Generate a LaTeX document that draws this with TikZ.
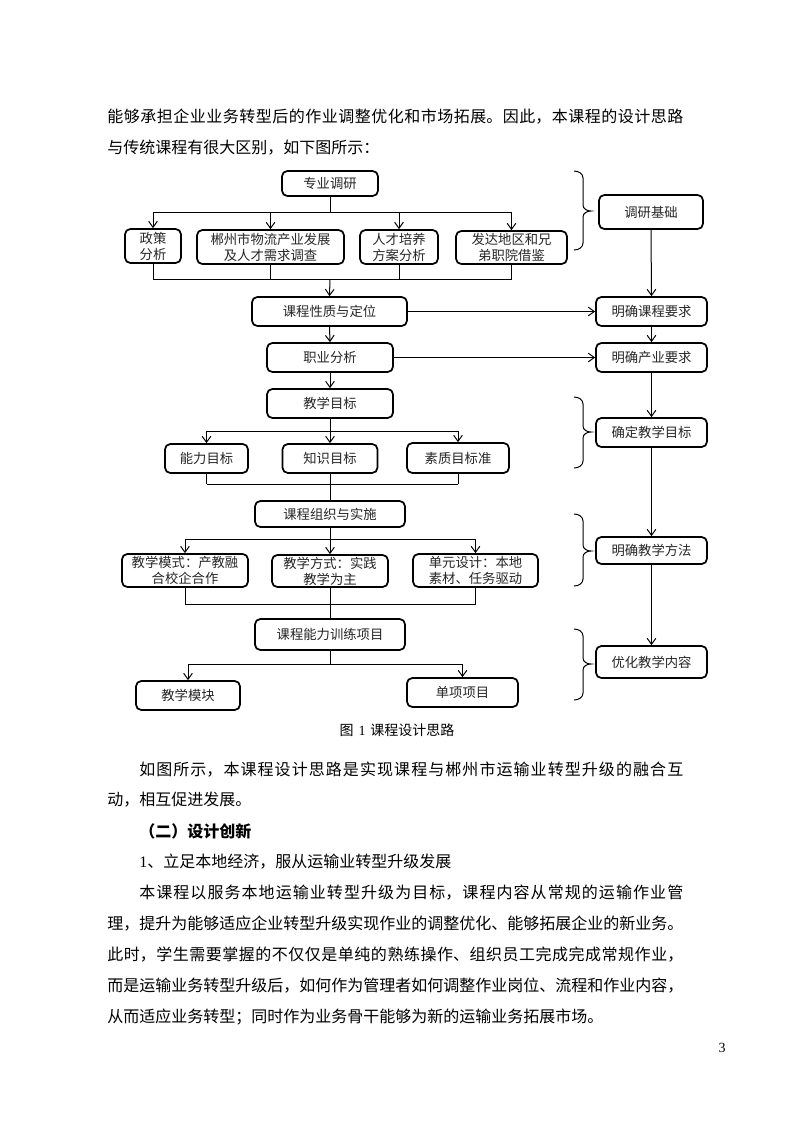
\documentclass[tikz,border=0pt]{standalone}
\usepackage{fontspec}
\setmainfont{Liberation Serif}
\newfontfamily\cjk{Noto Sans CJK SC}
\usetikzlibrary{arrows.meta}
\XeTeXlinebreaklocale "zh"
\XeTeXlinebreakskip=0pt plus 3pt
\newdimen\px \px=0.75pt
\newcommand\bodyfont{\cjk\fontsize{12pt}{23.25pt}\selectfont}
\newcommand\boxfont{\cjk\fontsize{10pt}{12pt}\selectfont\color{black!85}}
\newcommand\capfont{\cjk\fontsize{10.5pt}{12pt}\selectfont}
\newcommand\fullline[1]{\parfillskip=0pt #1\par}
\begin{document}
\begin{tikzpicture}[x=0.75pt,y=-0.75pt,
  bx/.style 2 args={draw, line width=1.3pt, rounded corners=4pt, minimum width=#1\px, minimum height=#2\px, inner sep=0pt, align=center, font=\boxfont},
  ln/.style={line width=0.75pt},
  ar/.style={ln, -{Straight Barb[length=4.5pt,width=6.5pt]}},
  brc/.style={line width=0.75pt},
  tl/.style={anchor=west, inner sep=0pt, font=\bodyfont},
  jl/.style={tl, text width=#1\px, align=justify}]
\fill[white] (0,0) rectangle (793,1122);
\useasboundingbox (0,0) rectangle (793,1122);

% body text above
\node[jl=576] (t1) at (107,117) {\fullline{能够承担企业业务转型后的作业调整优化和市场拓展。因此，本课程的设计思路}};
\node[tl] (t2) at (107,148) {与传统课程有很大区别，如下图所示：};

% left column boxes
\node[bx={96}{25}] (zy) at (330,183.5) {专业调研};
\node[bx={56}{34}] (zc) at (153,246) {政策\\分析};
\node[bx={147}{34}] (cz) at (270.5,247) {郴州市物流产业发展\\及人才需求调查};
\node[bx={78}{34}] (rc) at (399,247) {人才培养\\方案分析};
\node[bx={111}{33}] (fd) at (511.5,247.5) {发达地区和兄\\弟职院借鉴};
\node[bx={155}{29}] (xz) at (329.5,311.5) {课程性质与定位};
\node[bx={126}{29}] (zf) at (330,357.5) {职业分析};
\node[bx={126}{29}] (jm) at (330,403.5) {教学目标};
\node[bx={83}{29}] (nl) at (206.5,458.5) {能力目标};
\node[bx={95}{29}] (zs) at (330,458.5) {知识目标};
\node[bx={102}{30}] (sz) at (458,458) {素质目标准};
\node[bx={150}{26}] (zz) at (330,514) {课程组织与实施};
\node[bx={126}{33}] (ms) at (185,570.5) {教学模式：产教融\\合校企合作};
\node[bx={116}{32}] (fs) at (330,571) {教学方式：实践\\教学为主};
\node[bx={125}{33}] (dy) at (475.5,570.5) {单元设计：本地\\素材、任务驱动};
\node[bx={150}{31}] (nx) at (330,634.5) {课程能力训练项目};
\node[bx={104}{29}] (mk) at (188,695.5) {教学模块};
\node[bx={111}{29}] (dx) at (462.5,692.5) {单项项目};

% right column boxes
\node[bx={104}{34}] (jc) at (651,212) {调研基础};
\node[bx={111}{29}] (kc) at (651.5,311.5) {明确课程要求};
\node[bx={111}{29}] (cy) at (651.5,357.5) {明确产业要求};
\node[bx={111}{29}] (qd) at (651.5,432.5) {确定教学目标};
\node[bx={111}{27}] (ff) at (651.5,550.5) {明确教学方法};
\node[bx={111}{32}] (yh) at (651.5,662) {优化教学内容};

% bus coordinates
\coordinate (b1) at (330,212);
\coordinate (b2) at (330,279);
\coordinate (b3) at (330,431);
\coordinate (b4) at (330,484);
\coordinate (b5) at (330,539);
\coordinate (b6) at (330,604);
\coordinate (b7) at (330,664);

% research split
\draw[ln] (zy.south) -- (b1);
\draw[ln] (zc.north |- b1) -- (fd.north |- b1);
\foreach \n in {zc,cz,rc,fd} \draw[ar] (\n.north |- b1) -- (\n.north);
% research merge
\foreach \n in {zc,cz,rc,fd} \draw[ln] (\n.south) -- (\n.south |- b2);
\draw[ln] (zc.south |- b2) -- (fd.south |- b2);
\draw[ar] (b2) -- (xz.north);
% chain
\draw[ar] (xz.south) -- (zf.north);
\draw[ar] (zf.south) -- (jm.north);
\draw[ar] (xz.east) -- (kc.west);
\draw[ar] (zf.east) -- (cy.west);
% goals split
\draw[ln] (jm.south) -- (b3);
\draw[ln] (nl.north |- b3) -- (sz.north |- b3);
\foreach \n in {nl,zs,sz} \draw[ar] (\n.north |- b3) -- (\n.north);
% goals merge
\foreach \n in {nl,sz} \draw[ln] (\n.south) -- (\n.south |- b4);
\draw[ln] (nl.south |- b4) -- (sz.south |- b4);
\draw[ln] (zs.south) -- (zz.north);
% organisation split
\draw[ln] (zz.south) -- (b5);
\draw[ln] (ms.north |- b5) -- (dy.north |- b5);
\foreach \n in {ms,fs,dy} \draw[ar] (\n.north |- b5) -- (\n.north);
% organisation merge
\foreach \n in {ms,dy} \draw[ln] (\n.south) -- (\n.south |- b6);
\draw[ln] (ms.south |- b6) -- (dy.south |- b6);
\draw[ln] (fs.south) -- (nx.north);
% project split
\draw[ln] (nx.south) -- (b7);
\draw[ln] (mk.north |- b7) -- (dx.north |- b7);
\foreach \n in {mk,dx} \draw[ar] (\n.north |- b7) -- (\n.north);

% right column chain
\draw[ar] (jc.south) -- (kc.north);
\draw[ar] (kc.south) -- (cy.north);
\draw[ar] (cy.south) -- (qd.north);
\draw[ar] (qd.south) -- (ff.north);
\draw[ar] (ff.south) -- (yh.north);

% braces
\foreach \ya/\ym/\yb in {171/211/250, 397/432/468, 514/551/586, 629/664/700}{
  \draw[brc] (574,\ya) to[out=0,in=90] (583,\ya+7) -- (583,\ym-6) to[out=-90,in=180] (591,\ym) to[out=180,in=90] (583,\ym+6) -- (583,\yb-7) to[out=-90,in=0] (574,\yb);
}

% caption
\node[font=\capfont, inner sep=0pt] (cap) at (397,730) {图\hspace{0.35em}{\rmfamily 1}\hspace{0.35em}课程设计思路};

% body text below
\node[jl=544] (t3) at (139,770) {\fullline{如图所示，本课程设计思路是实现课程与郴州市运输业转型升级的融合互}};
\node[tl] (t4) at (107,800) {动，相互促进发展。};
\node[tl] (t5) at (139,831) {\bfseries （二）设计创新};
\node[tl] (t6) at (139,862) {{\rmfamily 1}、立足本地经济，服从运输业转型升级发展};
\node[jl=544] (t7) at (139,893) {\fullline{本课程以服务本地运输业转型升级为目标，课程内容从常规的运输作业管}};
\node[jl=576] (t8) at (107,924) {\fullline{理，提升为能够适应企业转型升级实现作业的调整优化、能够拓展企业的新业务。}};
\node[jl=576] (t9) at (107,955) {\fullline{此时，学生需要掌握的不仅仅是单纯的熟练操作、组织员工完成完成常规作业，}};
\node[jl=576] (t10) at (107,986) {\fullline{而是运输业务转型升级后，如何作为管理者如何调整作业岗位、流程和作业内容，}};
\node[tl] (t11) at (107,1017) {从而适应业务转型；同时作为业务骨干能够为新的运输业务拓展市场。};

% page number
\node[font=\rmfamily\fontsize{10.5pt}{12pt}\selectfont, inner sep=0pt] (pg) at (722,1048) {3};
\end{tikzpicture}
\end{document}
